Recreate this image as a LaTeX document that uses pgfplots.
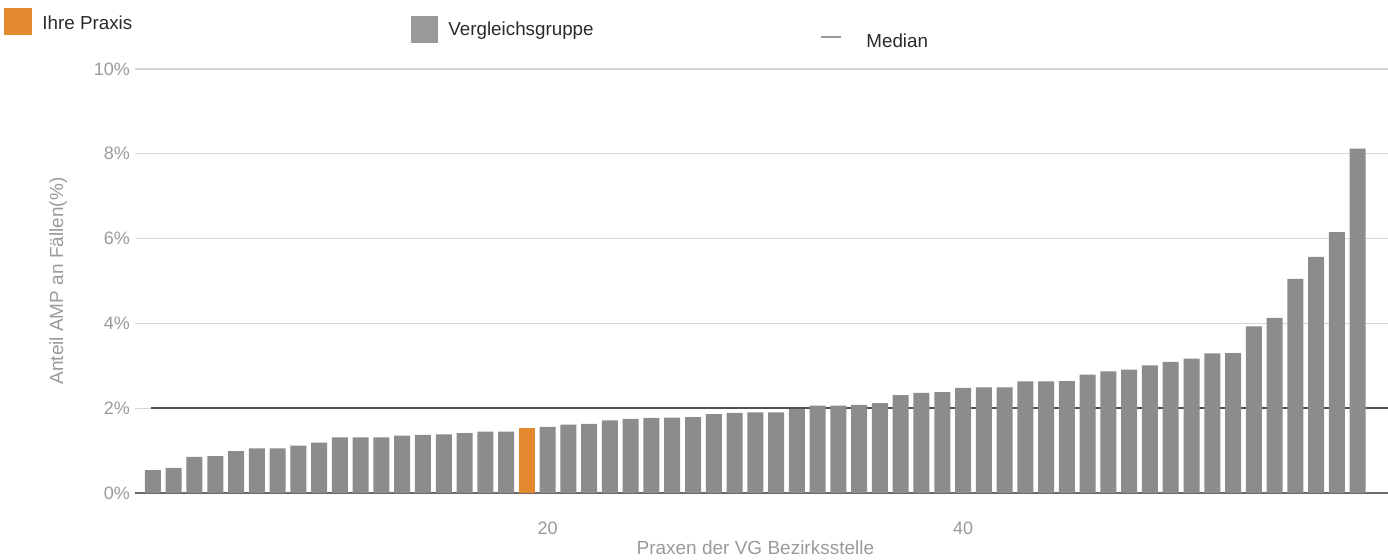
\documentclass[border=0pt]{standalone}
\usepackage{fontspec}
\setmainfont{Liberation Sans}
\usepackage{pgfplots}
\usepackage{pgfplotstable}
\pgfplotsset{compat=1.18}

\definecolor{barGray}{HTML}{8C8C8C}
\definecolor{legendGray}{HTML}{999999}
\definecolor{praxisOrange}{HTML}{E5892F}
\definecolor{gridGray}{HTML}{D3D7DB}
\definecolor{tickGray}{HTML}{9A9A9A}
\definecolor{axisGray}{HTML}{6A6A6A}
\definecolor{medianGray}{HTML}{505050}
\definecolor{legendText}{HTML}{2A2A2A}

% Vergleichsgruppe (ohne Ihre Praxis, Nr. 19)
\pgfplotstableread{
x v
1 0.54
2 0.59
3 0.85
4 0.87
5 0.99
6 1.05
7 1.05
8 1.12
9 1.19
10 1.31
11 1.31
12 1.31
13 1.35
14 1.37
15 1.38
16 1.41
17 1.45
18 1.45
20 1.56
21 1.61
22 1.63
23 1.71
24 1.75
25 1.77
26 1.78
27 1.79
28 1.86
29 1.89
30 1.90
31 1.90
32 1.98
33 2.06
34 2.06
35 2.08
36 2.12
37 2.31
38 2.36
39 2.38
40 2.48
41 2.49
42 2.49
43 2.63
44 2.63
45 2.64
46 2.79
47 2.87
48 2.91
49 3.01
50 3.09
51 3.17
52 3.29
53 3.30
54 3.93
55 4.13
56 5.05
57 5.57
58 6.15
59 8.12
}\vgdata

\begin{document}
\begin{tikzpicture}
\useasboundingbox (0,0) rectangle (694pt,280pt);
\begin{axis}[
  at={(67.65pt,33.5pt)}, anchor=south west,
  scale only axis, width=626.35pt, height=212pt,
  xmin=0.15, xmax=60.46, ymin=0, ymax=10,
  ybar, bar width=8pt, bar shift=0pt,
  axis x line*=bottom, axis y line*=left,
  y axis line style={draw=none},
  x axis line style={draw=axisGray, line width=1pt},
  tick style={draw=none},
  ymajorgrids, grid style={draw=gridGray, line width=0.6pt},
  ytick={0,2,4,6,8,10}, xtick={20,40},
  /pgf/number format/assume math mode=true,
  yticklabel={\pgfmathprintnumber{\tick}\%},
  yticklabel style={font=\fontsize{9}{10}\selectfont, text=tickGray,
    anchor=east, inner sep=0pt, xshift=-2.5pt},
  xticklabel style={font=\fontsize{9}{10}\selectfont, text=tickGray,
    anchor=center, inner sep=0pt, yshift=-13.5pt},
  xlabel={Praxen der VG Bezirksstelle},
  xlabel style={at={(axis description cs:0.495,-0.1297)}, anchor=center,
    font=\fontsize{9.5}{11}\selectfont, text=tickGray},
  ylabel={Anteil AMP an Fällen(\%)},
  ylabel style={at={(axis description cs:-0.0616,0.5)}, anchor=center,
    font=\fontsize{9.5}{11}\selectfont, text=tickGray},
]
\addplot[sharp plot, draw=medianGray, line width=0.8pt] coordinates {(0.9,2.0) (60.46,2.0)};
\addplot[fill=barGray, draw=none] table[x=x, y=v] {\vgdata};
\addplot[fill=praxisOrange, draw=none] coordinates {(19,1.54)};
\end{axis}

% legend
\fill[praxisOrange] (2pt,262.5pt) rectangle (16pt,276pt);
\node[anchor=base west, inner sep=0pt, font=\fontsize{9.4}{11}\selectfont, text=legendText] at (21pt,265pt) {Ihre Praxis};
\fill[legendGray] (205.5pt,258.5pt) rectangle (219pt,272pt);
\node[anchor=base west, inner sep=0pt, font=\fontsize{9.4}{11}\selectfont, text=legendText] at (224pt,262pt) {Vergleichsgruppe};
\draw[draw=legendGray, line width=0.6pt] (410.5pt,261.5pt) -- (420.5pt,261.5pt);
\node[anchor=base west, inner sep=0pt, font=\fontsize{9.4}{11}\selectfont, text=legendText] at (433pt,256pt) {Median};
\end{tikzpicture}
\end{document}
